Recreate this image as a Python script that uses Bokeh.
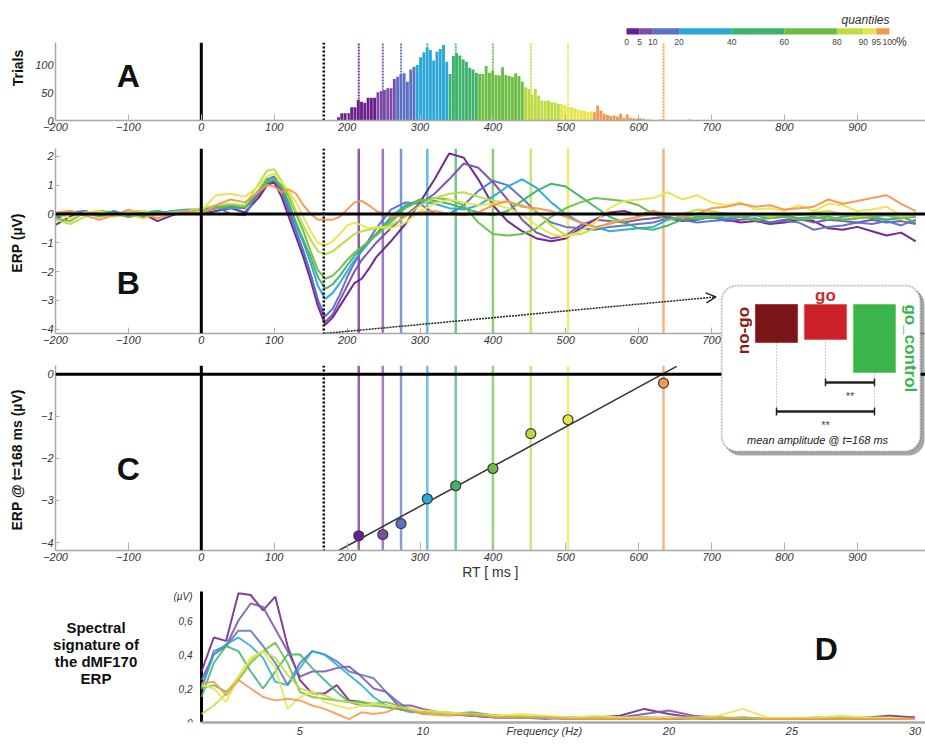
import numpy as np
from bokeh.plotting import figure
from bokeh.models import Range1d, FixedTicker, Label, Arrow, OpenHead, Span, BoxAnnotation, Div
from bokeh.layouts import column
from bokeh.embed import file_html
from bokeh.resources import INLINE
from bokeh.core.properties import value

FONT = "Liberation Sans"

# ---------------- data ----------------
quantile_pcts = [0, 5, 10, 20, 40, 60, 80, 90, 95, 100]
quantile_labels = ["0", "5", "10", "20", "40", "60", "80", "90", "95", "100"]
quantile_colors = ["#6c1f8c", "#7d4ca9", "#5c70c4", "#2ba8d7", "#3db36c", "#6cbd43",
                   "#bddb42", "#e8e54c", "#f4984e"]
quantile_edges_ms = [240, 268, 293, 337, 378, 442, 490, 536]
quantile_rt = [216, 249, 274, 310, 349, 400, 452, 503, 634]
erp_at_168 = [-3.84, -3.81, -3.55, -2.96, -2.65, -2.24, -1.41, -1.08, -0.21]

hist_start = 186.0
hist_width = 4.5
hist_counts = [6, 13, 13, 13, 24, 24, 37, 34, 32, 41, 41, 41, 51, 53, 55, 58, 58, 75, 79, 84,
               85, 70, 92, 97, 100, 114, 123, 131, 127, 108, 124, 129, 136, 106, 84, 116, 121,
               117, 110, 106, 95, 92, 86, 84, 84, 98, 86, 90, 82, 81, 96, 82, 80, 79, 85, 80,
               70, 60, 57, 47, 57, 45, 36, 35, 36, 33, 33, 30, 30, 28, 25, 24, 22, 20, 18, 17,
               15, 16, 15, 27, 18, 12, 10, 8, 9, 7, 12, 5, 11, 5, 4, 3, 4, 3, 2, 2, 1, 1, 2, 1,
               0, 1, 0, 0, 1, 0, 1, 2, 1, 1, 0, 1]

erp_times = [-200, -180, -160, -140, -120, -100, -80, -60, -40, -20, 0,
             20, 40, 60, 80,
             90, 100, 110, 120, 130, 140, 150, 160, 170, 180, 190, 200, 210, 220, 230, 240,
             260, 280, 300, 320, 340, 360, 380, 400, 420, 440, 460, 480, 500, 520, 540, 560,
             580, 600, 620, 640, 660, 680, 700, 720, 740, 760, 780, 800, 820, 840, 860, 880,
             900, 920, 940, 960, 980]

erp_q0 = [-0.38, -0.10, 0.10, -0.05, 0.05, -0.10, 0.00, -0.25, -0.05, 0.10, 0.00,
          0.10, 0.20, 0.05, 0.60,
          1.00, 1.10, 0.60, -0.10, -0.80, -1.50, -2.30, -3.20, -3.85, -3.60, -3.20, -2.80, -2.40, -2.25, -1.90, -1.50,
          -0.95, -0.35, 0.40, 1.20, 2.10, 1.95, 1.20, 0.30, -0.25, -0.60, -0.85, -0.95, -0.85, -0.50, -0.20, 0.05,
          0.10, -0.05, 0.10, -0.15, -0.25, -0.20, -0.10, -0.20, -0.30, -0.25, -0.35, -0.30, -0.20, -0.25, -0.50, -0.55,
          -0.45, -0.60, -0.75, -0.65, -0.95]
erp_q1 = [-0.20, 0.10, -0.05, 0.10, 0.00, 0.05, -0.10, 0.10, 0.00, 0.05, 0.05,
          0.20, 0.25, 0.20, 0.70,
          1.05, 1.15, 0.80, 0.10, -0.60, -1.30, -2.10, -3.00, -3.75, -3.50, -3.00, -2.50, -2.00, -1.60, -1.30, -1.00,
          -0.50, -0.05, 0.35, 0.70, 1.20, 1.75, 1.60, 1.10, 0.50, -0.20, -0.65, -0.85, -0.75, -0.40, -0.20, -0.25,
          -0.30, -0.20, -0.15, -0.10, -0.20, -0.15, -0.10, -0.25, -0.20, -0.15, -0.30, -0.20, -0.15, -0.30, -0.20, -0.25,
          -0.30, -0.20, -0.30, -0.25, -0.35]
erp_q2 = [-0.10, 0.05, 0.10, -0.05, 0.10, -0.05, 0.05, -0.05, 0.10, 0.05, 0.10,
          0.25, 0.00, -0.05, 0.80,
          1.20, 1.30, 0.90, 0.20, -0.60, -1.30, -2.10, -3.00, -3.55, -3.30, -2.80, -2.20, -1.70, -1.25, -0.90, -0.50,
          0.15, 0.40, 0.35, 0.00, 0.00, 0.30, 0.80, 1.15, 1.00, 0.55, 0.05, -0.30, -0.45, -0.50, -0.55, -0.45,
          -0.40, -0.35, -0.30, -0.15, -0.20, -0.30, -0.25, -0.20, -0.10, -0.25, -0.30, -0.25, -0.30, -0.55, -0.45, -0.40,
          -0.30, -0.35, -0.25, -0.40, -0.20]
erp_q3 = [0.00, 0.10, -0.05, 0.10, 0.00, 0.05, 0.10, 0.00, 0.10, 0.15, 0.15,
          0.20, 0.20, 0.20, 0.85,
          1.20, 1.25, 0.90, 0.30, -0.40, -1.00, -1.70, -2.50, -2.95, -2.75, -2.40, -2.00, -1.60, -1.30, -1.00, -0.70,
          -0.10, 0.30, 0.45, 0.35, 0.20, 0.15, 0.30, 0.60, 0.95, 1.20, 0.90, 0.40, 0.00, -0.30, -0.45, -0.60,
          -0.55, -0.50, -0.45, -0.20, -0.10, -0.20, -0.10, -0.15, -0.10, -0.05, -0.15, -0.10, -0.20, -0.15, -0.10, -0.20,
          -0.15, -0.10, -0.20, -0.15, -0.10]
erp_q4 = [-0.05, 0.05, 0.00, 0.10, 0.05, -0.05, 0.05, 0.10, 0.00, 0.10, 0.10,
          0.25, 0.30, 0.20, 0.80,
          1.10, 1.20, 0.95, 0.40, -0.30, -0.90, -1.50, -2.20, -2.60, -2.45, -2.15, -1.80, -1.45, -1.20, -0.95, -0.70,
          -0.20, 0.25, 0.50, 0.45, 0.35, 0.20, 0.05, -0.05, 0.10, 0.45, 0.80, 1.05, 0.95, 0.60, 0.25, -0.10,
          -0.30, -0.50, -0.55, -0.40, -0.20, -0.10, -0.15, -0.05, -0.10, -0.20, -0.10, -0.05, -0.15, -0.10, -0.20, -0.10,
          -0.05, -0.15, -0.20, -0.10, -0.30]
erp_q5 = [-0.15, -0.25, 0.05, -0.10, 0.00, -0.10, -0.05, 0.05, 0.00, 0.10, 0.10,
          0.20, 0.30, 0.25, 0.85,
          1.15, 1.20, 1.00, 0.60, 0.00, -0.60, -1.30, -1.95, -2.25, -2.15, -1.90, -1.60, -1.35, -1.15, -0.95, -0.75,
          -0.30, 0.20, 0.45, 0.55, 0.50, 0.30, -0.30, -0.70, -0.75, -0.70, -0.50, -0.10, 0.20, 0.40, 0.55, 0.50,
          0.45, 0.30, 0.00, -0.20, -0.10, -0.15, -0.10, -0.05, -0.10, -0.20, -0.15, -0.10, -0.20, -0.15, -0.10, -0.20,
          -0.15, -0.10, -0.05, -0.15, -0.10]
erp_q6 = [-0.20, -0.35, -0.10, 0.05, -0.10, 0.00, -0.15, 0.00, 0.05, 0.10, 0.20,
          0.30, 0.35, 0.30, 1.10,
          1.50, 1.55, 1.15, 0.70, 0.10, -0.40, -0.90, -1.30, -1.40, -1.30, -1.10, -0.90, -0.70, -0.60, -0.55, -0.50,
          -0.40, -0.10, 0.30, 0.55, 0.70, 0.75, 0.60, 0.45, 0.40, 0.30, 0.10, -0.40, -0.75, -0.70, -0.50, -0.30,
          -0.20, -0.10, 0.00, -0.05, 0.00, 0.15, 0.10, 0.00, -0.05, 0.00, -0.10, 0.00, -0.05, 0.05, 0.10, 0.00,
          -0.10, -0.05, 0.00, -0.10, -0.05]
erp_q7 = [0.00, -0.15, 0.05, 0.10, -0.05, 0.05, 0.10, -0.05, 0.05, 0.00, 0.10,
          0.65, 0.70, 0.60, 1.00,
          1.30, 1.40, 1.10, 0.80, 0.40, -0.10, -0.60, -1.00, -1.10, -0.95, -0.70, -0.40, -0.30, -0.40, -0.50, -0.45,
          -0.50, -0.30, 0.10, 0.35, 0.50, 0.40, 0.30, 0.35, 0.20, 0.00, -0.40, -0.70, -0.80, -0.60, -0.30, 0.20,
          0.45, 0.50, 0.55, 0.75, 0.50, 0.65, 0.40, 0.30, 0.40, 0.15, 0.20, 0.10, 0.30, 0.10, 0.35, 0.30,
          0.10, 0.15, 0.25, -0.05, 0.00]
erp_q8 = [0.05, 0.10, -0.05, -0.20, -0.05, 0.15, 0.00, -0.15, 0.00, 0.10, 0.00,
          0.30, 0.50, 0.40, 0.80,
          1.00, 0.95, 0.75, 0.85, 0.70, 0.30, 0.00, -0.20, -0.20, -0.20, -0.10, 0.15, 0.40, 0.45, 0.30, 0.10,
          -0.10, -0.05, 0.05, 0.10, 0.00, -0.05, 0.05, 0.30, 0.45, 0.25, 0.20, 0.10, -0.10, -0.30, -0.45, -0.35,
          -0.20, -0.10, 0.10, 0.00, -0.10, 0.00, 0.20, 0.25, 0.35, 0.25, 0.30, 0.15, 0.20, 0.25, 0.50, 0.35,
          0.45, 0.55, 0.65, 0.35, 0.10]
erp_curves = [erp_q0, erp_q1, erp_q2, erp_q3, erp_q4, erp_q5, erp_q6, erp_q7, erp_q8]

spec_freqs = [1, 1.5, 2, 2.5, 3, 3.5, 4, 4.5, 5, 5.5, 6, 6.5, 7, 7.5, 8, 8.5, 9, 9.5, 10,
              11, 12, 13, 14, 15, 16, 17, 18, 19, 20, 21, 22, 23, 24, 25, 26, 27, 28, 29, 30]
spec_q0 = [0.30, 0.50, 0.48, 0.76, 0.75, 0.66, 0.74, 0.45, 0.25, 0.17, 0.17, 0.22, 0.13, 0.12, 0.10, 0.10, 0.08, 0.07, 0.06,
           0.05, 0.04, 0.03, 0.03, 0.03, 0.02, 0.03, 0.04, 0.08, 0.05, 0.03, 0.03, 0.02, 0.02, 0.02, 0.02, 0.02, 0.03, 0.04, 0.03]
spec_q1 = [0.25, 0.40, 0.45, 0.60, 0.70, 0.68, 0.55, 0.42, 0.27, 0.30, 0.30, 0.32, 0.33, 0.27, 0.20, 0.18, 0.10, 0.10, 0.08,
           0.05, 0.05, 0.04, 0.03, 0.03, 0.03, 0.02, 0.03, 0.05, 0.07, 0.04, 0.03, 0.02, 0.02, 0.02, 0.03, 0.02, 0.02, 0.02, 0.03]
spec_q2 = [0.20, 0.42, 0.45, 0.54, 0.54, 0.45, 0.35, 0.22, 0.35, 0.42, 0.40, 0.36, 0.30, 0.28, 0.26, 0.18, 0.12, 0.07, 0.06,
           0.05, 0.04, 0.03, 0.03, 0.02, 0.03, 0.02, 0.02, 0.03, 0.02, 0.02, 0.02, 0.02, 0.02, 0.02, 0.02, 0.02, 0.02, 0.02, 0.02]
spec_q3 = [0.20, 0.40, 0.46, 0.50, 0.45, 0.38, 0.24, 0.22, 0.32, 0.42, 0.40, 0.34, 0.28, 0.22, 0.15, 0.10, 0.08, 0.06, 0.06,
           0.05, 0.05, 0.04, 0.03, 0.03, 0.02, 0.02, 0.03, 0.03, 0.02, 0.03, 0.02, 0.02, 0.02, 0.02, 0.02, 0.03, 0.02, 0.02, 0.02]
spec_q4 = [0.15, 0.35, 0.45, 0.42, 0.30, 0.20, 0.30, 0.40, 0.40, 0.32, 0.25, 0.18, 0.12, 0.10, 0.10, 0.09, 0.08, 0.07, 0.06,
           0.05, 0.06, 0.04, 0.03, 0.03, 0.03, 0.03, 0.02, 0.03, 0.03, 0.02, 0.02, 0.03, 0.02, 0.02, 0.02, 0.03, 0.02, 0.02, 0.02]
spec_q5 = [0.20, 0.22, 0.18, 0.25, 0.35, 0.42, 0.47, 0.35, 0.18, 0.15, 0.14, 0.13, 0.12, 0.12, 0.11, 0.12, 0.10, 0.08, 0.05,
           0.06, 0.04, 0.04, 0.03, 0.03, 0.03, 0.02, 0.02, 0.03, 0.02, 0.03, 0.02, 0.02, 0.02, 0.02, 0.03, 0.02, 0.02, 0.02, 0.02]
spec_q6 = [0.05, 0.10, 0.17, 0.27, 0.37, 0.42, 0.38, 0.28, 0.20, 0.18, 0.16, 0.13, 0.12, 0.11, 0.10, 0.10, 0.09, 0.08, 0.06,
           0.05, 0.05, 0.04, 0.04, 0.03, 0.03, 0.03, 0.03, 0.02, 0.03, 0.02, 0.03, 0.03, 0.02, 0.02, 0.03, 0.03, 0.03, 0.02, 0.02]
spec_q7 = [0.22, 0.20, 0.12, 0.27, 0.38, 0.42, 0.32, 0.08, 0.15, 0.18, 0.12, 0.10, 0.08, 0.10, 0.11, 0.10, 0.09, 0.08, 0.07,
           0.06, 0.05, 0.04, 0.05, 0.04, 0.03, 0.04, 0.03, 0.03, 0.03, 0.03, 0.04, 0.08, 0.03, 0.03, 0.03, 0.04, 0.03, 0.03, 0.02]
spec_q8 = [0.23, 0.24, 0.16, 0.25, 0.20, 0.15, 0.13, 0.14, 0.13, 0.10, 0.08, 0.05, 0.02, 0.06, 0.05, 0.06, 0.09, 0.07, 0.05,
           0.04, 0.05, 0.03, 0.03, 0.03, 0.02, 0.02, 0.02, 0.02, 0.02, 0.03, 0.02, 0.03, 0.02, 0.02, 0.02, 0.02, 0.02, 0.02, 0.02]
spec_curves = [spec_q0, spec_q1, spec_q2, spec_q3, spec_q4, spec_q5, spec_q6, spec_q7, spec_q8]
spec_yticks = [0, 0.2, 0.4, 0.6, 0.74]
spec_ytick_labels = ["0", "0,2", "0,4", "0,6", "(\u00b5V)"]

conditions = ["no-go", "go", "go_control"]
cond_amp = [-1.15, -1.06, -2.06]
cond_colors = ["#7c1517", "#cb2129", "#3bb54a"]

# ---------------- helpers ----------------
W = 925
LEFT = 55
FRAME_W = W - LEFT
MS_PX = 0.729
X_RANGE = (-200, -200 + FRAME_W / MS_PX)


def base_fig(height, x_range, y_range, top, bottom):
    p = figure(width=W, height=height, x_range=Range1d(*x_range), y_range=Range1d(*y_range),
               output_backend="svg", toolbar_location=None,
               min_border_left=LEFT, min_border_right=0, min_border_top=top,
               min_border_bottom=bottom)
    p.outline_line_color = None
    p.grid.visible = False
    p.background_fill_color = "white"
    p.border_fill_color = "white"
    return p


def style_axis(ax, ticks, tick_in=5):
    ax.ticker = FixedTicker(ticks=ticks)
    ax.major_label_text_font = FONT
    ax.major_label_text_font_style = "italic"
    ax.major_label_text_font_size = "11px"
    ax.major_label_text_color = "#333333"
    ax.axis_line_color = "#a8a8a8"
    ax.axis_line_width = 1.5
    ax.major_tick_in = tick_in
    ax.major_tick_out = 0
    ax.major_tick_line_color = "#b0b0b0"
    ax.minor_tick_line_color = None
    ax.major_label_standoff = 2


def style_ylabel(ax, text, standoff):
    ax.axis_label = text
    ax.axis_label_text_font = FONT
    ax.axis_label_text_font_style = "bold"
    ax.axis_label_text_font_size = "14px"
    ax.axis_label_text_color = "#111111"
    ax.axis_label_standoff = standoff


def big_letter(p, x, y, t):
    p.add_layout(Label(x=x, y=y, text=t, text_font=FONT, text_font_style="bold",
                       text_font_size="32px", text_align="center", text_baseline="middle",
                       text_color="#111111"))


def ref_lines(p):
    p.add_layout(Span(location=0, dimension="height", line_color="black", line_width=3))
    p.add_layout(Span(location=168, dimension="height", line_color="black", line_width=2.5,
                      line_dash="2 2"))


x_ticks = [-200, -100, 0, 100, 200, 300, 400, 500, 600, 700, 800, 900]

# ---------------- panel A ----------------
A_TOP = 105 / 0.555
pA = base_fig(137, X_RANGE, (0, A_TOP), top=15, bottom=17)
style_axis(pA.xaxis[0], x_ticks, tick_in=6)
style_axis(pA.yaxis[0], [0, 50, 100], tick_in=0)
pA.yaxis[0].bounds = (0, 140)
style_ylabel(pA.yaxis[0], "Trials", 6)

centers = hist_start + hist_width * (np.arange(len(hist_counts)) + 0.5)
bin_idx = np.searchsorted(quantile_edges_ms, centers)
hist_cols = [quantile_colors[i] for i in bin_idx]
pA.vbar(x=centers, top=hist_counts, width=hist_width * 0.88, fill_color=hist_cols,
        line_color=None)
pA.segment(x0=quantile_rt, y0=0, x1=quantile_rt, y1=140, line_color=quantile_colors,
           line_width=2, line_dash="2 1", line_alpha=0.9)
pA.segment(x0=[0], y0=[0], x1=[0], y1=[140], line_color="black", line_width=3)
pA.segment(x0=[168], y0=[0], x1=[168], y1=[140], line_color="black", line_width=2.5,
           line_dash="2 2")
big_letter(pA, -100, 80, "A")

# colour bar of quantiles
cb_left_px, cb_px_per_pct = 571.0, 2.63
pct_start = -cb_left_px / cb_px_per_pct
pA.extra_x_ranges = {"pct": Range1d(pct_start, pct_start + FRAME_W / cb_px_per_pct)}
pA.quad(left=quantile_pcts[:-1], right=quantile_pcts[1:], bottom=155, top=166,
        fill_color=quantile_colors, line_color=None, x_range_name="pct")
pA.text(x=quantile_pcts, y=[141] * len(quantile_pcts), text=quantile_labels,
        x_range_name="pct", text_font=value(FONT), text_font_size="8.5px",
        text_color="#444444", text_align="center", text_baseline="middle")
pA.add_layout(Label(x=100, y=181, x_range_name="pct", text="quantiles", text_font=FONT,
                    text_font_style="italic", text_font_size="12px", text_color="#333333",
                    text_align="right", text_baseline="middle"))
pA.add_layout(Label(x=102.5, y=141, x_range_name="pct", text="%", text_font=FONT,
                    text_font_size="12px", text_color="#333333",
                    text_align="left", text_baseline="middle"))

# ---------------- panel B ----------------
pB = base_fig(213, X_RANGE, (-4.15, 2.27), top=11, bottom=17)
style_axis(pB.xaxis[0], x_ticks, tick_in=6)
style_axis(pB.yaxis[0], [-4, -3, -2, -1, 0, 1, 2], tick_in=4)
style_ylabel(pB.yaxis[0], "ERP  (\u00b5V)", 13)
pB.segment(x0=quantile_rt, y0=-4.15, x1=quantile_rt, y1=2.27, line_color=quantile_colors,
           line_width=2.5, line_alpha=0.75)
for curve, col in zip(erp_curves, quantile_colors):
    pB.line(erp_times, curve, line_color=col, line_width=2, line_alpha=0.95)
pB.add_layout(Span(location=0, dimension="width", line_color="black", line_width=3))
ref_lines(pB)
pB.add_layout(Arrow(end=OpenHead(size=10, line_width=1.5, line_color="#222222"),
                    x_start=168, y_start=-4.15, x_end=706, y_end=-2.88,
                    line_color="#222222", line_width=1.5, line_dash="2 1"))
big_letter(pB, -100, -2.4, "B")

# ---------------- panel C ----------------
pC = base_fig(232, X_RANGE, (-4.19, 0.21), top=15, bottom=30)
style_axis(pC.xaxis[0], x_ticks, tick_in=8)
style_axis(pC.yaxis[0], [-4, -3, -2, -1, 0], tick_in=4)
style_ylabel(pC.yaxis[0], "ERP  @ t=168 ms (\u00b5V)", 13)
pC.xaxis[0].axis_label = "RT [ ms ]"
pC.xaxis[0].axis_label_text_font = FONT
pC.xaxis[0].axis_label_text_font_style = "normal"
pC.xaxis[0].axis_label_text_font_size = "14px"
pC.xaxis[0].axis_label_text_color = "#333333"
pC.xaxis[0].axis_label_standoff = 0
pC.segment(x0=quantile_rt, y0=-4.19, x1=quantile_rt, y1=0.21, line_color=quantile_colors,
           line_width=2.5, line_alpha=0.7)
pC.add_layout(Span(location=0, dimension="width", line_color="black", line_width=3))
ref_lines(pC)
slope, icpt = np.polyfit(quantile_rt, erp_at_168, 1)
fit_x = [188, 652]
pC.line(fit_x, [icpt + slope * v for v in fit_x], line_color="#333333", line_width=1.5)
pC.scatter(quantile_rt, erp_at_168, size=10, fill_color=quantile_colors,
           line_color="#3a3a3a", line_width=1.2)
big_letter(pC, -100, -2.26, "C")

# ---------------- inset (mean amplitude bars) ----------------
IBOX_W, IH = 205, 172
px_x, px_y = 49.0, 33.0
ix0 = 1 - 56 / px_x
iy1 = 20 / px_y
pI = figure(width=LEFT + IBOX_W, height=IH,
            x_range=Range1d(ix0, ix0 + IBOX_W / px_x),
            y_range=Range1d(iy1 - IH / px_y, iy1),
            x_axis_type=None, y_axis_type=None, output_backend="svg",
            toolbar_location=None, min_border_left=LEFT, min_border_right=0,
            min_border_top=0, min_border_bottom=0,
            margin=(-298, 0, 126, 720 - LEFT))
pI.outline_line_color = None
pI.grid.visible = False
pI.background_fill_alpha = 0
pI.border_fill_alpha = 0
pI.add_layout(BoxAnnotation(left=ix0 + 4 / px_x, right=ix0 + 204 / px_x,
                            top=iy1 - 4 / px_y, bottom=iy1 - 171 / px_y,
                            fill_color="black", fill_alpha=0.35, line_color=None,
                            border_radius=16, level="underlay"))
pI.add_layout(BoxAnnotation(left=ix0 + 1 / px_x, right=ix0 + 200 / px_x,
                            top=iy1 - 1 / px_y, bottom=iy1 - 167 / px_y,
                            fill_color="white", fill_alpha=1.0, line_color="#333333",
                            line_width=2, line_dash="2 1", border_radius=16,
                            level="underlay"))
cond_x = [1, 2, 3]
lvl_a, lvl_b = -2.36, -3.24
pI.segment(x0=cond_x, y0=cond_amp, x1=cond_x, y1=[lvl_b, lvl_a, lvl_b],
           line_color="#9a9a9a", line_width=1, line_dash="1 2")
pI.vbar(x=cond_x, top=0, bottom=cond_amp, width=0.86, fill_color=cond_colors,
        line_color=["#a04040", "#e06060", "#70cc70"], line_width=1)
pI.segment(x0=[2, 1], y0=[lvl_a, lvl_b], x1=[3, 3], y1=[lvl_a, lvl_b],
           line_color="#222222", line_width=2.5)
pI.segment(x0=[2, 3, 1, 3], y0=[lvl_a - 0.12, lvl_a - 0.12, lvl_b - 0.12, lvl_b - 0.12],
           x1=[2, 3, 1, 3], y1=[lvl_a + 0.12, lvl_a + 0.12, lvl_b + 0.12, lvl_b + 0.12],
           line_color="#222222", line_width=1.5)
pI.text(x=[2.5, 2.0], y=[lvl_a - 0.4, lvl_b - 0.4], text=["**", "**"],
        text_font=value(FONT), text_font_size="11px", text_color="#444444",
        text_align="center", text_baseline="middle")
pI.add_layout(Label(x=0.33, y=-0.79, text=conditions[0], angle=np.pi / 2,
                    text_font=FONT, text_font_style="bold", text_font_size="17px",
                    text_color="#8a1a1c", text_align="center", text_baseline="middle"))
pI.add_layout(Label(x=2.0, y=0.27, text=conditions[1],
                    text_font=FONT, text_font_style="bold", text_font_size="17px",
                    text_color="#cf2a2e", text_align="center", text_baseline="middle"))
pI.add_layout(Label(x=3.73, y=-1.33, text=conditions[2], angle=-np.pi / 2,
                    text_font=FONT, text_font_style="bold", text_font_size="17px",
                    text_color="#3bb54a", text_align="center", text_baseline="middle"))
pI.add_layout(Label(x=1.9, y=-4.12, text="mean  amplitude  @ t=168 ms",
                    text_font=FONT, text_font_style="italic", text_font_size="11px",
                    text_color="#222222", text_align="center", text_baseline="middle"))

# ---------------- panel D ----------------
HZ_PX = 24.6
d_start = 1 - (201 - LEFT) / HZ_PX
pD = base_fig(163, (d_start, d_start + FRAME_W / HZ_PX), (0, 135 / 170), top=5, bottom=23)
style_axis(pD.xaxis[0], [5, 10, 15, 20, 25, 30], tick_in=0)
pD.xaxis[0].major_label_overrides = {15: "Frequency  (Hz)"}
pD.xaxis[0].axis_line_width = 2.5
pD.xaxis[0].bounds = (1, d_start + FRAME_W / HZ_PX)
pD.yaxis.visible = False
pD.segment(x0=[1], y0=[0], x1=[1], y1=[0.77], line_color="black", line_width=3)
pD.text(x=[1] * len(spec_yticks), y=spec_yticks, text=spec_ytick_labels, x_offset=-9,
        text_font=value(FONT), text_font_style="italic", text_font_size="10px",
        text_color="#333333", text_align="right", text_baseline="middle")
for curve, col in zip(spec_curves, quantile_colors):
    pD.line(spec_freqs, curve, line_color=col, line_width=2, line_alpha=0.85)
big_letter(pD, 26.4, 0.435, "D")

# side caption of panel D (placed over the left margin of panel D)
caption = Div(text="Spectral<br>signature of<br>the dMF170<br>ERP",
              width=130, height=75, margin=(-126, 0, 51, 31),
              styles={"font-family": FONT, "font-weight": "bold", "font-size": "15px",
                      "line-height": "17px", "text-align": "center", "color": "#111111"})

layout = column(pA, pB, pC, pI, pD, caption)
open("out.html", "w").write(file_html(layout, INLINE))
